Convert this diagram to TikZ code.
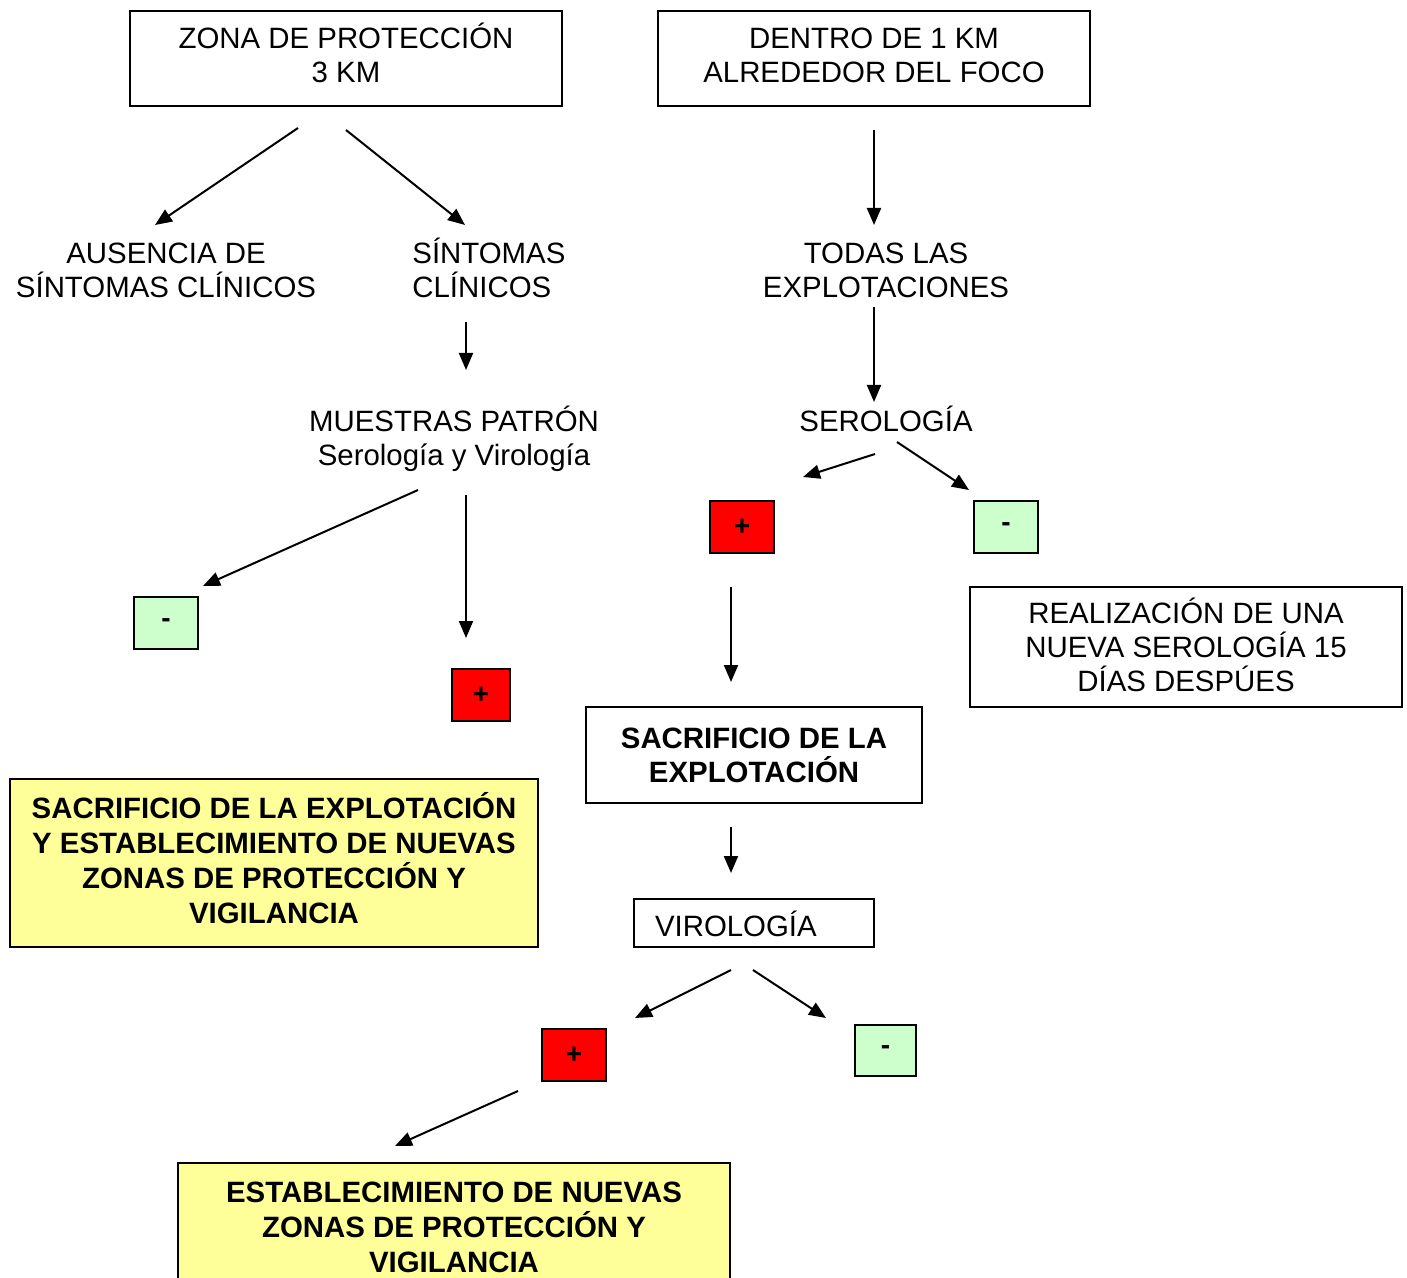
\documentclass[tikz,border=0pt]{standalone}
\usepackage{fontspec}
\setmainfont{Liberation Sans}
\usetikzlibrary{arrows.meta}
\definecolor{signpos}{HTML}{FF0000}
\definecolor{signneg}{HTML}{CCFFCC}
\definecolor{notice}{HTML}{FFFF99}
\tikzset{
  txt/.style={align=center, text height=28pt, font=\fontsize{14.7pt}{17pt}\selectfont},
  box/.style={txt, draw, line width=1pt, minimum width=216pt, minimum height=47.5pt},
  alert/.style={txt, draw, line width=1pt, fill=notice, font=\fontsize{14.7pt}{17.5pt}\selectfont\bfseries},
  sign/.style={draw, line width=1pt, minimum width=32pt, minimum height=26pt, inner sep=0pt, font=\fontsize{14pt}{16pt}\selectfont\bfseries},
  arr/.style={line width=1pt, -{Triangle[length=8.5pt,width=7pt]}}
}
\begin{document}
\begin{tikzpicture}[x=0.5pt, y=-0.5pt]
\useasboundingbox (0,0) rectangle (1407,1278);
% cajas de arriba
\node[box, text depth=3.5pt] (zona) at (346,58.5) {ZONA DE PROTECCIÓN\\3 KM};
\node[box, text depth=3.5pt] (foco) at (874,58.5) {DENTRO DE 1 KM\\ALREDEDOR DEL FOCO};
% segundo nivel
\node[txt] (ausencia) at (166,270) {AUSENCIA DE\\SÍNTOMAS CLÍNICOS};
\node[txt, align=left, anchor=west, inner sep=0pt] (sintomas) at (412,270) {SÍNTOMAS\\CLÍNICOS};
\node[txt] (todas) at (886,270) {TODAS LAS\\EXPLOTACIONES};
\node[txt] (muestras) at (454,440.5) {MUESTRAS PATRÓN\\Serología y Virología};
\node[txt, text height=11pt] (serologia) at (886,420.5) {SEROLOGÍA};
% resultados
\node[sign, fill=signpos] (posS) at (742,527) {+};
\node[sign, fill=signneg] (negS) at (1006,527) {-};
\node[sign, fill=signneg] (negM) at (166,623) {-};
\node[sign, fill=signpos, minimum width=29pt] (posM) at (481,695) {+};
\node[sign, fill=signpos] (posV) at (574,1055) {+};
\node[sign, fill=signneg, minimum width=30.5pt, minimum height=25.5pt] (negV) at (885.5,1050.5) {-};
% medidas
\node[box, minimum height=60pt, text height=45pt] (nueva) at (1186,647) {REALIZACIÓN DE UNA\\NUEVA SEROLOGÍA 15\\DÍAS DESPÚES};
\node[box, minimum width=168pt, minimum height=48pt, font=\fontsize{14.7pt}{17pt}\selectfont\bfseries] (sacrificio) at (754,755) {SACRIFICIO DE LA\\EXPLOTACIÓN};
\node[alert, minimum width=264pt, minimum height=84pt, text height=63.5pt, text depth=3pt] (nuevas) at (274,863) {SACRIFICIO DE LA EXPLOTACIÓN\\Y ESTABLECIMIENTO DE NUEVAS\\ZONAS DE PROTECCIÓN Y\\VIGILANCIA};
\node[box, minimum width=120pt, minimum height=24pt, text width=99pt, align=left, inner xsep=10.5pt, text height=13.5pt, text depth=0pt] (virologia) at (754,923) {VIROLOGÍA};
\node[alert, minimum width=276pt, minimum height=64pt, text height=46pt] (zonas) at (454,1227) {ESTABLECIMIENTO DE NUEVAS\\ZONAS DE PROTECCIÓN Y\\VIGILANCIA};
% extremos de las flechas
\foreach \n/\x/\y in {s1/298/128, e1/155/225, s2/346/130, e2/465/225, s3/874/130, e3/874/225,
    s4/466/322, e4/466/370, s5/874/307, e5/874/402, s6/875/454, e6/803/477,
    s7/897/442, e7/969/490, s8/418/490, e8/203/586, s9/466/495, e9/466/638,
    s10/731/587, e10/731/682, s11/731/827, e11/731/873, s12/731/970, e12/635/1018,
    s13/753/970, e13/826/1018, s14/518/1091, e14/395/1146}
  \coordinate (\n) at (\x,\y);
\foreach \i in {1,...,14}
  \draw[arr] (s\i) -- (e\i);
\end{tikzpicture}
\end{document}
